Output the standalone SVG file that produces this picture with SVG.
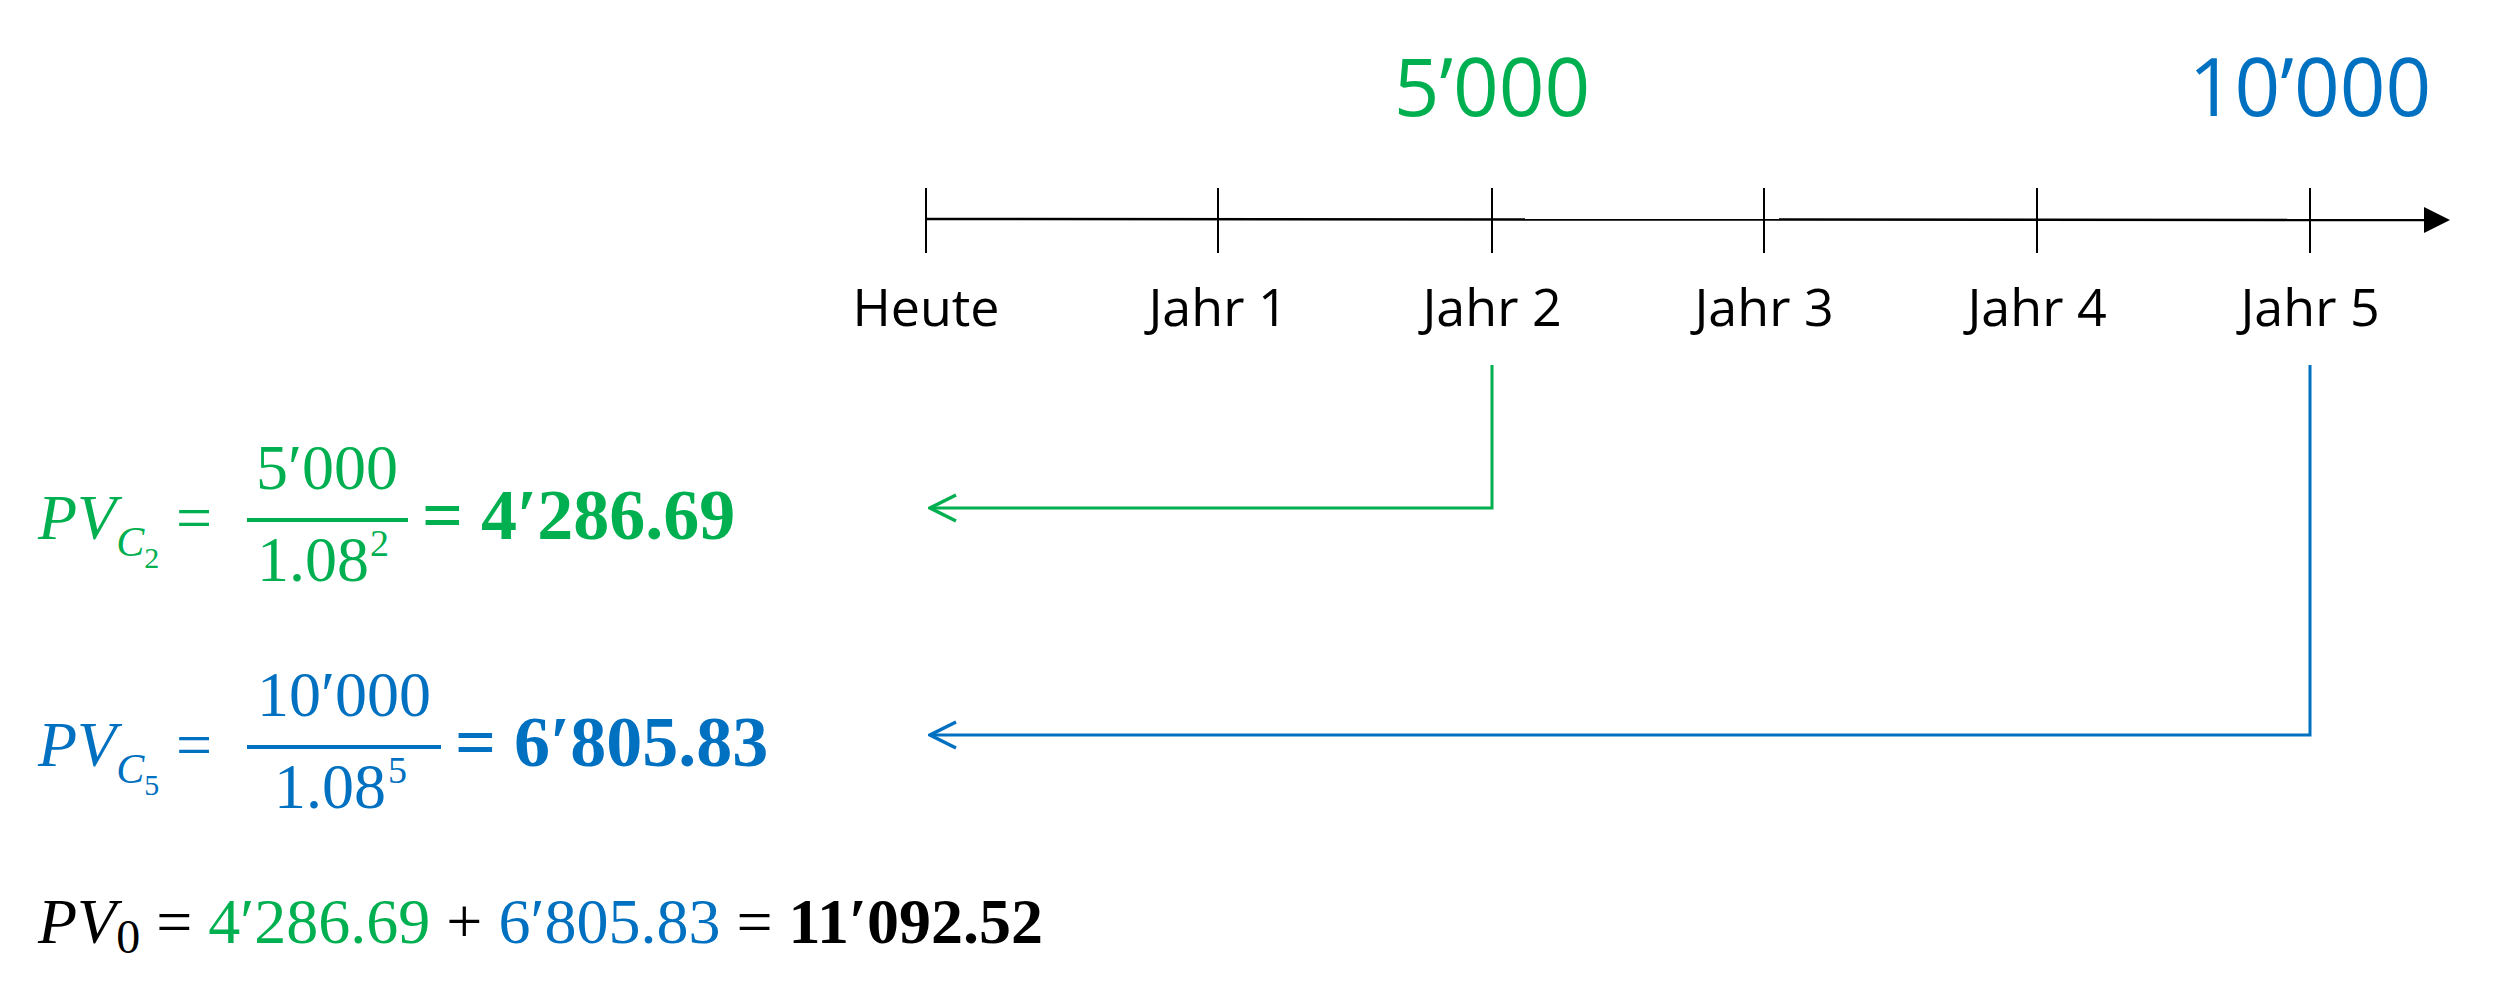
<svg xmlns="http://www.w3.org/2000/svg" width="2502" height="994" viewBox="0 0 2502 994">
<style>
.lbl{font-family:"Open Sans","Liberation Sans",sans-serif;font-size:52px;fill:#000;text-anchor:middle}
.big{font-family:"Open Sans","Liberation Sans",sans-serif;font-size:80px;text-anchor:middle}
.m{font-family:"Liberation Serif",serif;font-size:64px}
.i{font-style:italic}
.b{font-weight:bold}
.g{fill:#00B050}.bl{fill:#0070C0}.k{fill:#000}
.tick{stroke:#000;stroke-width:2}
</style>
<defs>
<marker id="og" markerWidth="30" markerHeight="30" refX="28" refY="15" orient="auto" markerUnits="userSpaceOnUse" viewBox="0 0 30 30"><path d="M2,2L28,15L2,28" fill="none" stroke="#00B050" stroke-width="3.5"/></marker>
<marker id="ob" markerWidth="30" markerHeight="30" refX="28" refY="15" orient="auto" markerUnits="userSpaceOnUse" viewBox="0 0 30 30"><path d="M2,2L28,15L2,28" fill="none" stroke="#0070C0" stroke-width="3.5"/></marker>
</defs>
<g id="axis">
<line x1="926" y1="219" x2="2432" y2="220" stroke="#000" stroke-width="2.5"/>
<path d="M2424,207L2450,220L2424,233z" fill="#000"/>
<line class="tick" x1="926" y1="188" x2="926" y2="253"/>
<line class="tick" x1="1218" y1="188" x2="1218" y2="253"/>
<line class="tick" x1="1492" y1="188" x2="1492" y2="253"/>
<line class="tick" x1="1764" y1="188" x2="1764" y2="253"/>
<line class="tick" x1="2037" y1="188" x2="2037" y2="253"/>
<line class="tick" x1="2310" y1="188" x2="2310" y2="253"/>
</g>
<g id="labels">
<text class="lbl" x="926" y="326">Heute</text>
<text class="lbl" x="1218" y="326">Jahr 1</text>
<text class="lbl" x="1492" y="326">Jahr 2</text>
<text class="lbl" x="1764" y="326">Jahr 3</text>
<text class="lbl" x="2037" y="326">Jahr 4</text>
<text class="lbl" x="2310" y="326">Jahr 5</text>
</g>
<g id="cf2"><text class="big g" x="1492" y="116">5’000</text></g>
<g id="cf5"><text class="big bl" x="2310" y="116">10’000</text></g>
<g id="connectors">
<polyline points="1492,365 1492,508 930,508" fill="none" stroke="#00B050" stroke-width="3" marker-end="url(#og)"/>
<polyline points="2310,365 2310,735 930,735" fill="none" stroke="#0070C0" stroke-width="3" marker-end="url(#ob)"/>
</g>
<g id="pv2" class="m g">
<text x="38" y="539" class="i">PV<tspan font-size="42" dy="17">C</tspan><tspan font-size="30" font-style="normal" dy="12">2</tspan></text>
<text x="176" y="539">=</text>
<text x="327" y="489" text-anchor="middle">5′000</text>
<rect x="247" y="518" width="161" height="4" fill="#00B050"/>
<text x="313" y="581" text-anchor="middle">1.08</text>
<text x="370" y="556" font-size="38">2</text>
<text x="422" y="539" class="b" font-size="72">= 4′286.69</text>
</g>
<g id="pv5" class="m bl">
<text x="38" y="766" class="i">PV<tspan font-size="42" dy="17">C</tspan><tspan font-size="30" font-style="normal" dy="12">5</tspan></text>
<text x="176" y="766">=</text>
<text x="344" y="716" text-anchor="middle">10′000</text>
<rect x="247" y="745" width="194" height="4" fill="#0070C0"/>
<text x="330" y="808" text-anchor="middle">1.08</text>
<text x="388" y="783" font-size="38">5</text>
<text x="455" y="766" class="b" font-size="72">= 6′805.83</text>
</g>
<g id="pv0" class="m" font-size="78">
<text x="38" y="943" class="k"><tspan class="i">PV</tspan><tspan font-size="48" dy="10">0</tspan><tspan dy="-10"> = </tspan><tspan class="g">4′286.69</tspan><tspan> + </tspan><tspan class="bl">6′805.83</tspan><tspan> = </tspan><tspan class="b">11′092.52</tspan></text>
</g>
</svg>
